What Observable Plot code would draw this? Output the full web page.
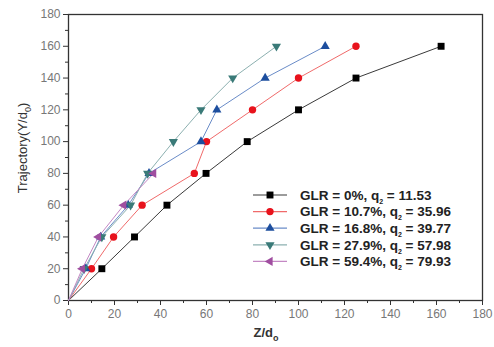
<!DOCTYPE html>
<html><head><meta charset="utf-8">
<script src="https://cdn.jsdelivr.net/npm/d3@7"></script>
<script src="https://cdn.jsdelivr.net/npm/@observablehq/plot@0.6"></script>
<style>
body{margin:0;background:#fff;}
#chart{position:relative;width:494px;height:347px;}
</style>
</head><body><div id="chart"></div>
<script>
// Trajectory levels (Y/d0)
const yLevels = [0, 20, 40, 60, 80, 100, 120, 140, 160];
// Z/d0 values per series
const zGLR0  = [0, 14.5, 28.7, 42.8, 59.8, 77.7, 100, 125, 162];
const zGLR107 = [0, 10, 19.6, 32, 54.7, 60, 80, 100, 125];
const zGLR168 = [0, 7.5, 14, 26, 35, 57.6, 64.5, 85.5, 111.6];
const zGLR279 = [0, 6.8, 14.5, 27, 34.4, 45.6, 57.6, 71.4, 90.4];
const zGLR594 = [0, 6, 13, 24, 37];
const seriesGLR = ["0%", "10.7%", "16.8%", "27.9%", "59.4%"];
const seriesQ2 = ["11.53", "35.96", "39.77", "57.98", "79.93"];
const xTicks = [0, 20, 40, 60, 80, 100, 120, 140, 160, 180];
const yTicks = [0, 20, 40, 60, 80, 100, 120, 140, 160, 180];
const xMinor = [10, 30, 50, 70, 90, 110, 130, 150, 170];
const yMinor = [10, 30, 50, 70, 90, 110, 130, 150, 170];

const markerColors = ["#000000", "#e8121c", "#1d4e9e", "#3a7a78", "#a04ea0"];
const lineColors = ["#3a3a3a", "#f06a6a", "#6a8cc8", "#8cb0b0", "#c488c4"];

function triPath(ctx, size, dir) {
  const y = Math.sqrt(size / (3 * Math.sqrt(3)));
  const s = Math.sqrt(3) * y;
  let pts;
  if (dir === "down") pts = [[0, 2 * y], [-s, -y], [s, -y]];
  else pts = [[-2 * y, 0], [y, -s], [y, s]];
  ctx.moveTo(pts[0][0], pts[0][1]);
  ctx.lineTo(pts[1][0], pts[1][1]);
  ctx.lineTo(pts[2][0], pts[2][1]);
  ctx.closePath();
}
const symbolDown = {draw(ctx, size) { triPath(ctx, size, "down"); }};
const symbolLeft = {draw(ctx, size) { triPath(ctx, size, "left"); }};
const symbols = ["square", "circle", "triangle", symbolDown, symbolLeft];
const radii = [3.9, 3.7, 3.4, 3.4, 3.4];
const d3Symbols = [d3.symbolSquare, d3.symbolCircle, d3.symbolTriangle, symbolDown, symbolLeft];

const zSeries = [zGLR0, zGLR107, zGLR168, zGLR279, zGLR594];
const seriesData = zSeries.map((zs, i) => zs.map((z, j) => ({x: z, y: yLevels[j], s: i})));

const marks = [
  Plot.frame({stroke: "#333", strokeWidth: 1.3}),
  Plot.axisX({ticks: xTicks, tickSize: 5, tickPadding: 4, label: null, stroke: "#333", fill: "#777", fontSize: 12}),
  Plot.axisX({ticks: xMinor, tickSize: 3, text: null, label: null, stroke: "#333"}),
  Plot.axisY({ticks: yTicks, tickSize: 5, tickPadding: 3, label: null, stroke: "#333", fill: "#777", fontSize: 12}),
  Plot.axisY({ticks: yMinor, tickSize: 3, text: null, label: null, stroke: "#333"})
];
seriesData.forEach((d, i) => {
  marks.push(Plot.line(d, {x: "x", y: "y", stroke: lineColors[i], strokeWidth: 1}));
});
seriesData.forEach((d, i) => {
  marks.push(Plot.dot(d.slice(1), {x: "x", y: "y", symbol: symbols[i], r: radii[i], fill: markerColors[i], stroke: "none"}));
});

const plot = Plot.plot({
  width: 494, height: 347,
  marginLeft: 68, marginRight: 12, marginTop: 14, marginBottom: 47,
  x: {domain: [0, 180]},
  y: {domain: [0, 180]},
  style: {fontFamily: "'Liberation Sans', Arial, sans-serif", fontSize: "12px", background: "#fff"},
  marks
});
document.getElementById("chart").appendChild(plot);

const svg = d3.select(plot);
const font = "'Liberation Sans', Arial, sans-serif";
// Axis titles
const xt = svg.append("text").attr("x", 266).attr("y", 337).attr("text-anchor", "middle")
  .attr("font-family", font).attr("font-size", 13).attr("font-weight", "bold").attr("fill", "#333");
xt.append("tspan").text("Z/d");
xt.append("tspan").attr("font-size", 9).attr("dy", 4).text("o");
const yt = svg.append("text").attr("transform", "translate(27,148) rotate(-90)").attr("text-anchor", "middle")
  .attr("font-family", font).attr("font-size", 13).attr("fill", "#333");
yt.append("tspan").text("Trajectory(Y/d");
yt.append("tspan").attr("font-size", 9).attr("dy", 4).text("0");
yt.append("tspan").attr("dy", -4).text(")");

// Legend
const lg = svg.append("g").attr("text-anchor", "start");
seriesGLR.forEach((g, i) => {
  const cy = 195 + i * 16.6;
  lg.append("line").attr("x1", 253).attr("x2", 287).attr("y1", cy).attr("y2", cy)
    .attr("stroke", lineColors[i]).attr("stroke-width", 1.2);
  lg.append("path").attr("transform", `translate(270,${cy})`)
    .attr("d", d3.symbol(d3Symbols[i], Math.PI * radii[i] * radii[i])())
    .attr("fill", markerColors[i]);
  const t = lg.append("text").attr("x", 300).attr("y", cy).attr("dy", "0.35em").attr("text-anchor", "start")
    .attr("font-family", font).attr("font-size", 13.5).attr("font-weight", "bold").attr("fill", "#222");
  t.append("tspan").text(`GLR = ${g}, q`);
  t.append("tspan").attr("font-size", 7).attr("dy", 4).text("2");
  t.append("tspan").attr("dy", -4).text(` = ${seriesQ2[i]}`);
});
</script>
</body></html>
